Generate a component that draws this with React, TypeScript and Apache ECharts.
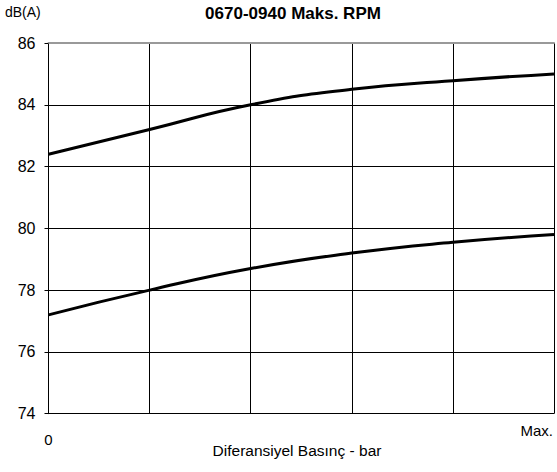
import React, { useEffect, useRef } from "react";
import * as echarts from "echarts";

const xValues = [0, 1, 2, 3, 4, 5];
const upperSeries = [82.4, 83.2, 84.0, 84.5, 84.78, 85.0];
const lowerSeries = [77.2, 78.0, 78.7, 79.2, 79.55, 79.8];
const yTicks = [74, 76, 78, 80, 82, 84, 86];
const xTickLabels = ["0", "", "", "", "", "Max."];
const title = "0670-0940 Maks. RPM";
const yName = "dB(A)";
const xName = "Diferansiyel Basınç - bar";

const FONT = "'Liberation Sans', Arial, sans-serif";

export default function App() {
  const ref = useRef<HTMLDivElement>(null);
  useEffect(() => {
    if (!ref.current) return;
    const chart = echarts.init(ref.current, null, { renderer: "svg" });
    const gridColors = yTicks.map((v, i) => (i === yTicks.length - 1 ? "#999999" : "#000000"));
    chart.setOption({
      animation: false,
      backgroundColor: "#ffffff",
      textStyle: { fontFamily: FONT },
      grid: { left: 48.5, right: -2, top: 43, bottom: 58.3, containLabel: false },
      xAxis: [
        {
          type: "value",
          min: 0,
          max: 5,
          interval: 1,
          axisLine: { show: false },
          axisTick: { show: false },
          splitLine: { show: true, lineStyle: { color: "#000", width: 1 } },
          axisLabel: {
            show: true,
            margin: 18,
            fontSize: 15,
            color: "#000",
            fontFamily: FONT,
            formatter: (v: number) => (v === 0 ? xTickLabels[0] : ""),
          },
        },
        {
          type: "value",
          position: "top",
          min: 0,
          max: 5,
          axisLine: { show: true, lineStyle: { color: "#999999", width: 2 } },
          axisTick: { show: false },
          axisLabel: { show: false },
          splitLine: { show: false },
        },
      ],
      yAxis: {
        type: "value",
        min: 74,
        max: 86,
        interval: 2,
        axisLine: { show: true, lineStyle: { color: "#000", width: 1 } },
        axisTick: { show: true, length: 4, lineStyle: { color: "#000", width: 1 } },
        splitLine: { show: true, lineStyle: { color: gridColors, width: 1 } },
        axisLabel: { margin: 13, fontSize: 16, color: "#000", fontFamily: FONT },
      },
      series: [
        {
          type: "line",
          data: xValues.map((x, i) => [x, upperSeries[i]]),
          smooth: true,
          showSymbol: false,
          lineStyle: { color: "#000", width: 3 },
        },
        {
          type: "line",
          data: xValues.map((x, i) => [x, lowerSeries[i]]),
          smooth: true,
          showSymbol: false,
          lineStyle: { color: "#000", width: 3 },
        },
      ],
      graphic: [
        {
          type: "text",
          left: 5,
          top: 5,
          style: { text: yName, fontSize: 14, fill: "#000", fontFamily: FONT },
        },
        {
          type: "text",
          x: 293,
          y: 13.5,
          style: {
            text: title,
            fontSize: 17,
            fontWeight: "bold",
            fill: "#000",
            fontFamily: FONT,
            align: "center",
            verticalAlign: "middle",
          },
        },
        {
          type: "text",
          x: 553,
          y: 430,
          style: {
            text: xTickLabels[5],
            fontSize: 15,
            fill: "#000",
            fontFamily: FONT,
            align: "right",
            verticalAlign: "middle",
          },
        },
        {
          type: "text",
          x: 297,
          y: 450.5,
          style: {
            text: xName,
            fontSize: 15.5,
            fill: "#000",
            fontFamily: FONT,
            align: "center",
            verticalAlign: "middle",
          },
        },
      ],
    });
    return () => chart.dispose();
  }, []);
  return (
    <div
      ref={ref}
      style={{ position: "fixed", left: 0, top: 0, width: 557, height: 472 }}
    />
  );
}
